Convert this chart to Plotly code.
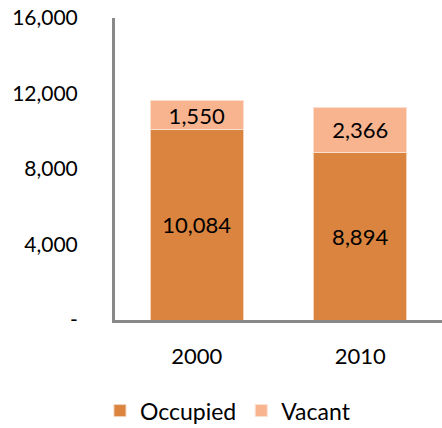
import plotly.graph_objects as go

years = ["2000", "2010"]
occupied = [10084, 8894]
vacant = [1550, 2366]
tick_vals = [0, 4000, 8000, 12000, 16000]
tick_text = ["-", "4,000", "8,000", "12,000", "16,000"]

FONT = "Lato, Open Sans, sans-serif"

fig = go.Figure()
fig.add_trace(go.Bar(
    x=years, y=occupied, name="Occupied",
    marker=dict(color="#DA843F", line=dict(color="#F3D3BA", width=1)),
    text=[f"{v:,}" for v in occupied], textposition="inside",
    insidetextanchor="middle", constraintext="none",
    textfont=dict(color="black", size=22, family=FONT),
))
fig.add_trace(go.Bar(
    x=years, y=vacant, name="Vacant",
    marker=dict(color="#F8B48F", line=dict(color="#FBE0D0", width=1)),
    text=[f"{v:,}" for v in vacant], textposition="inside",
    insidetextanchor="middle", constraintext="none",
    textfont=dict(color="black", size=22, family=FONT),
))

fig.update_layout(
    barmode="stack",
    bargap=0.43,
    width=442, height=428,
    margin=dict(l=115, r=0, t=18, b=108, autoexpand=False),
    paper_bgcolor="white", plot_bgcolor="white",
    font=dict(family=FONT, size=21, color="black"),
    showlegend=True,
    legend=dict(orientation="h", x=-0.046, xanchor="left",
                y=-0.30, yanchor="middle",
                font=dict(size=23), traceorder="normal"),
    xaxis=dict(showline=True, linecolor="#898989", linewidth=3, showgrid=False,
               ticks="", ticklabelstandoff=15, tickfont=dict(size=22),
               range=[-0.5, 1.5], automargin=False),
    yaxis=dict(range=[0, 16000], tickvals=tick_vals, ticktext=tick_text,
               showline=True, linecolor="#898989", linewidth=3, showgrid=False,
               zeroline=False, ticks="", ticklabelstandoff=30, tickfont=dict(size=21),
               automargin=False),
)

fig.write_html("out.html", config={"displayModeBar": False},
               post_script="document.body.style.margin='0';")
